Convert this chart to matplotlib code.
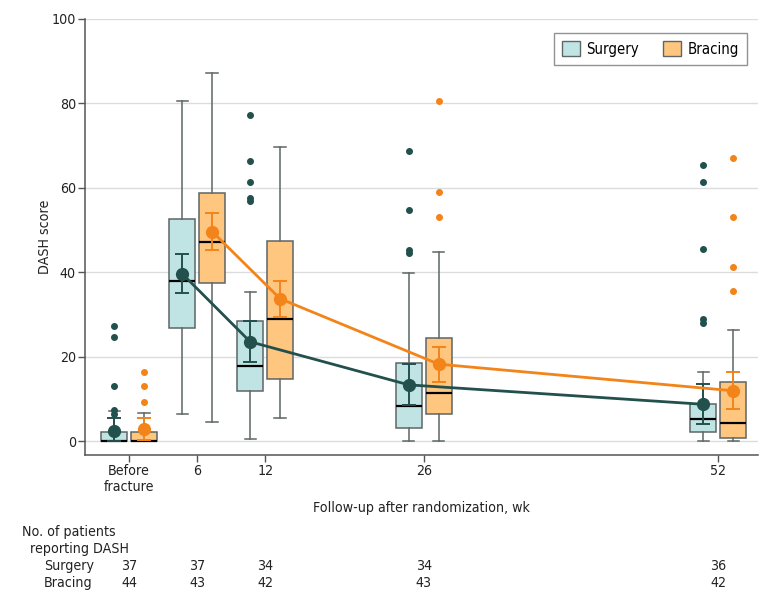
import matplotlib
matplotlib.use("Agg")
import matplotlib.pyplot as plt
from matplotlib.patches import Patch

plt.rcParams['font.family'] = ['DejaVu Sans']
plt.rcParams['font.stretch'] = 'condensed'

# follow-up time points (weeks) and labels
weeks = [0, 6, 12, 26, 52]
tick_labels = ["Before\nfracture", "6", "12", "26", "52"]

# surgery group
surg_whislo = [0, 6.4, 0.6, 0, 0]
surg_q1 = [0, 26.9, 12.0, 3.2, 2.3]
surg_med = [0, 38.1, 17.9, 8.5, 5.3]
surg_q3 = [2.2, 52.6, 28.4, 18.5, 8.8]
surg_whishi = [7.1, 80.5, 35.5, 39.8, 16.4]
surg_fliers = [[27.3, 24.8, 13.1, 7.5, 6.5], [], [77.3, 66.4, 61.4, 57.6, 56.9],
               [68.8, 54.7, 45.3, 44.7], [65.5, 61.4, 45.6, 29.1, 28.0]]
surg_mean = [2.5, 39.7, 23.6, 13.4, 8.8]
surg_ci_lo = [0, 35.1, 18.8, 8.6, 4.1]
surg_ci_hi = [5.5, 44.4, 28.5, 18.3, 13.6]
surg_n = [37, 37, 34, 34, 36]

# bracing group
brac_whislo = [0, 4.7, 5.6, 0, 0]
brac_q1 = [0, 37.4, 14.7, 6.6, 0.9]
brac_med = [0, 47.3, 28.9, 11.4, 4.3]
brac_q3 = [2.2, 58.7, 47.5, 24.6, 14.0]
brac_whishi = [6.8, 87.2, 69.8, 44.8, 26.4]
brac_fliers = [[16.4, 13.1, 9.3], [], [], [80.6, 59.0, 53.1], [67.2, 53.1, 41.4, 35.6]]
brac_mean = [2.9, 49.7, 33.8, 18.3, 12.0]
brac_ci_lo = [0.3, 45.3, 29.5, 14.1, 7.7]
brac_ci_hi = [5.5, 54.0, 38.1, 22.4, 16.4]
brac_n = [44, 43, 42, 43, 42]

SURG_FILL = "#c0e4e3"
SURG_DARK = "#22504d"
BRAC_FILL = "#ffc680"
BRAC_DARK = "#f2841a"
EDGE = "#5e6666"
TEXT = "#222222"
FS = 10.2


def make_stats(whislo, q1, med, q3, whishi, fliers):
    stats = []
    for i in range(len(q1)):
        stats.append(dict(whislo=whislo[i], q1=q1[i], med=med[i], q3=q3[i],
                          whishi=whishi[i], fliers=fliers[i]))
    return stats


fig = plt.figure(figsize=(7.8, 6.0), dpi=100)
ax = fig.add_axes([85 / 780, 1 - 455 / 600, 673 / 780, 436 / 600])

offset = 1.32
surg_x = [w - offset for w in weeks]
brac_x = [w + offset for w in weeks]

# gridlines
for yv in range(0, 101, 20):
    ax.axhline(yv, color="#dcdcdc", lw=1, zorder=0)

groups = [
    (surg_x, make_stats(surg_whislo, surg_q1, surg_med, surg_q3, surg_whishi, surg_fliers),
     SURG_FILL, SURG_DARK, surg_mean, surg_ci_lo, surg_ci_hi),
    (brac_x, make_stats(brac_whislo, brac_q1, brac_med, brac_q3, brac_whishi, brac_fliers),
     BRAC_FILL, BRAC_DARK, brac_mean, brac_ci_lo, brac_ci_hi),
]

for xs, stats, fill, dark, mean, lo, hi in groups:
    ax.bxp(stats, positions=xs, widths=2.3, capwidths=1.0, patch_artist=True,
           showfliers=True, manage_ticks=False,
           boxprops=dict(facecolor=fill, edgecolor=EDGE, lw=1.1),
           whiskerprops=dict(color=EDGE, lw=1.1),
           capprops=dict(color=EDGE, lw=1.1),
           medianprops=dict(color="black", lw=1.6),
           flierprops=dict(marker="o", markersize=4, markerfacecolor=dark,
                           markeredgecolor=dark))
    yerr = [[m - l for m, l in zip(mean, lo)], [h - m for m, h in zip(mean, hi)]]
    ax.errorbar(xs, mean, yerr=yerr, fmt="none", ecolor=dark, elinewidth=1.4,
                capsize=5, capthick=1.4, zorder=4)
    ax.plot(xs[1:], mean[1:], color=dark, lw=2, zorder=5)
    ax.plot(xs, mean, "o", color=dark, markersize=8.5, zorder=6)

ax.set_xlim(-3.9, 55.5)
ax.set_ylim(-3.2, 100)
ax.set_yticks(range(0, 101, 20))
ax.set_xticks(weeks)
ax.set_xticklabels(tick_labels)
for s in ["top", "right"]:
    ax.spines[s].set_visible(False)
for s in ["left", "bottom"]:
    ax.spines[s].set_color("#555555")
    ax.spines[s].set_linewidth(1.1)
ax.tick_params(axis="both", colors="#555555", labelcolor=TEXT, labelsize=FS,
               length=5, width=1, pad=1.5)
ax.set_ylabel("DASH score", fontsize=FS, color=TEXT, labelpad=0)
ax.set_xlabel("Follow-up after randomization, wk", fontsize=FS, color=TEXT,
              labelpad=5)

handles = [Patch(facecolor=SURG_FILL, edgecolor=EDGE, label="Surgery"),
           Patch(facecolor=BRAC_FILL, edgecolor=EDGE, label="Bracing")]
leg = ax.legend(handles=handles, ncol=2, loc="upper right",
                bbox_to_anchor=(747 / 780, 1 - 33 / 600),
                bbox_transform=fig.transFigure, borderaxespad=0, fancybox=False,
                edgecolor="#777777", fontsize=FS + 0.5, handlelength=1.2,
                handleheight=1.2, handletextpad=0.45, columnspacing=1.6,
                borderpad=0.55)
leg.get_frame().set_linewidth(1)

# number at risk table
txt = dict(fontsize=FS, color=TEXT, va="center")
fig.text(22 / 780, 1 - 532 / 600, "No. of patients", ha="left", **txt)
fig.text(30 / 780, 1 - 549 / 600, "reporting DASH", ha="left", **txt)
fig.text(44 / 780, 1 - 566 / 600, "Surgery", ha="left", **txt)
fig.text(44 / 780, 1 - 583 / 600, "Bracing", ha="left", **txt)
trans = ax.get_xaxis_transform()
for w, ns, nb in zip(weeks, surg_n, brac_n):
    ax.text(w, -(566 - 455) / 436, str(ns), ha="center", transform=trans,
            clip_on=False, **txt)
    ax.text(w, -(583 - 455) / 436, str(nb), ha="center", transform=trans,
            clip_on=False, **txt)

fig.savefig("out.png", dpi=100)
